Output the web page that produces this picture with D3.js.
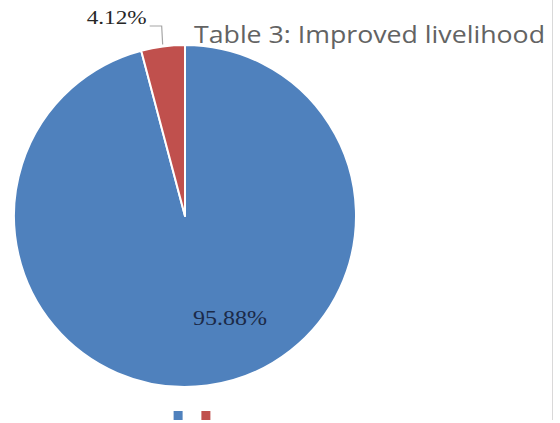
<!DOCTYPE html>
<html>
<head>
<meta charset="utf-8">
<script src="https://cdn.jsdelivr.net/npm/d3@7/dist/d3.min.js"></script>
<style>
  html, body { margin: 0; padding: 0; background: #fff; }
  svg { display: block; }
</style>
</head>
<body>
<svg id="chart" width="560" height="423"></svg>
<script>
// Share of respondents reporting improved livelihood
const categories = ["Yes", "No"];
const values = [95.88, 4.12];
const valueLabels = ["95.88%", "4.12%"];
const colors = ["#4f81bd", "#c0504d"];
const title = "Table 3: Improved livelihood";

const svg = d3.select("#chart");
const cx = 185, cy = 216, radius = 171;

// frame edge on the right
svg.append("line")
  .attr("x1", 552.5).attr("x2", 552.5)
  .attr("y1", 0).attr("y2", 420)
  .attr("stroke", "#d9d9d9").attr("stroke-width", 1);

const pie = d3.pie().sort(null).value(d => d)(values);
const arc = d3.arc().innerRadius(0).outerRadius(radius);

const g = svg.append("g").attr("transform", `translate(${cx},${cy})`);

g.selectAll("path.slice")
  .data(pie)
  .join("path")
  .attr("class", "slice")
  .attr("d", arc)
  .attr("fill", (d, i) => colors[i])
  .attr("stroke", "#ffffff")
  .attr("stroke-width", 2)
  .attr("stroke-linejoin", "round");

// label inside the large slice
g.append("text")
  .attr("x", 45)
  .attr("y", 109)
  .attr("text-anchor", "middle")
  .attr("font-family", "'Liberation Serif', 'Times New Roman', serif")
  .attr("font-size", 22)
  .attr("textLength", 74)
  .attr("lengthAdjust", "spacingAndGlyphs")
  .attr("fill", "#1b2a48")
  .text(valueLabels[0]);

// outside label for the small slice with a leader line
const small = pie[1];
const mid = (small.startAngle + small.endAngle) / 2;
const edge = [Math.sin(mid) * (radius + 2), -Math.cos(mid) * (radius + 2)];
const elbow = [edge[0] - 1, -radius - 19];
const tail = [elbow[0] - 12, elbow[1]];
g.append("path")
  .attr("d", d3.line()([edge, elbow, tail]))
  .attr("fill", "none")
  .attr("stroke", "#a6a6a6")
  .attr("stroke-width", 1.2);
g.append("text")
  .attr("x", tail[0] - 3)
  .attr("y", -192)
  .attr("text-anchor", "end")
  .attr("font-family", "'Liberation Serif', 'Times New Roman', serif")
  .attr("font-size", 19)
  .attr("textLength", 60)
  .attr("lengthAdjust", "spacingAndGlyphs")
  .attr("fill", "#262626")
  .text(valueLabels[1]);

// title
svg.append("text")
  .attr("x", 194)
  .attr("y", 43)
  .attr("font-family", "'Open Sans', Calibri, sans-serif")
  .attr("font-size", 24)
  .attr("textLength", 351)
  .attr("lengthAdjust", "spacingAndGlyphs")
  .attr("fill", "#636363")
  .text(title);

// legend swatches
const legendX = d3.scaleBand().domain(categories).range([167, 217]).paddingInner(0.4).paddingOuter(0.1);
svg.append("g").selectAll("rect")
  .data(categories)
  .join("rect")
  .attr("x", d => legendX(d) + (legendX.bandwidth() - 9) / 2)
  .attr("y", 411)
  .attr("width", 9)
  .attr("height", 9)
  .attr("fill", (d, i) => colors[i]);
</script>
</body>
</html>
